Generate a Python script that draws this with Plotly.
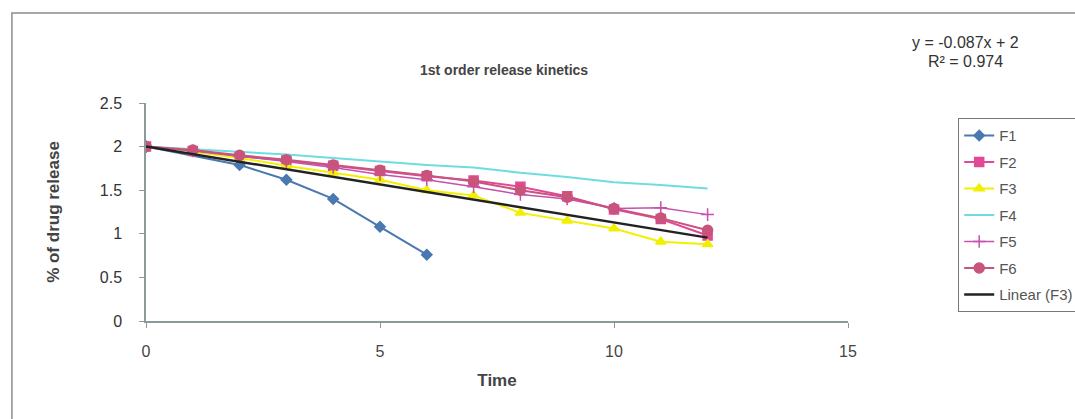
import plotly.graph_objects as go

# Sampling times
time_f1 = [0, 2, 3, 4, 5, 6]
time_all = [0, 1, 2, 3, 4, 5, 6, 7, 8, 9, 10, 11, 12]

# Log of percent drug remaining for each formulation
f1 = [2.0, 1.79, 1.62, 1.40, 1.08, 0.76]
f2 = [2.0, 1.95, 1.89, 1.84, 1.78, 1.72, 1.66, 1.61, 1.54, 1.43, 1.28, 1.17, 0.98]
f3 = [2.0, 1.94, 1.87, 1.78, 1.70, 1.62, 1.50, 1.44, 1.24, 1.15, 1.06, 0.91, 0.88]
f4 = [2.0, 1.97, 1.94, 1.91, 1.87, 1.83, 1.79, 1.76, 1.70, 1.65, 1.59, 1.56, 1.52]
f5 = [2.0, 1.95, 1.89, 1.83, 1.76, 1.68, 1.62, 1.54, 1.45, 1.40, 1.29, 1.30, 1.22]
f6 = [2.0, 1.96, 1.90, 1.85, 1.79, 1.73, 1.67, 1.60, 1.50, 1.42, 1.29, 1.18, 1.04]

# Linear trendline fitted to F3
slope = -0.087
intercept = 2.0
r_squared = 0.974
trend_x = [0, 12]

x_ticks = [0, 5, 10, 15]
y_ticks = [0, 0.5, 1, 1.5, 2, 2.5]

FONT = "Liberation Sans, Arial, sans-serif"

fig = go.Figure()

series = [
    ("F1", time_f1, f1, "#4a78b0", "diamond", 8, 2),
    ("F2", time_all, f2, "#e2489a", "square", 9, 2),
    ("F3", time_all, f3, "#f2f000", "triangle-up", 9, 2),
    ("F4", time_all, f4, "#6fdde0", None, 0, 2),
    ("F5", time_all, f5, "#c64fb0", "cross-thin", 9, 1.5),
    ("F6", time_all, f6, "#c8547c", "circle", 10, 2),
]

for i, (name, xs, ys, color, sym, msize, lw) in enumerate(series):
    if sym is None:
        fig.add_trace(go.Scatter(
            x=xs, y=ys, name=name, mode="lines",
            line=dict(color=color, width=lw), legendgroup=f"g{i}"))
    else:
        fig.add_trace(go.Scatter(
            x=xs, y=ys, name=name, mode="lines+markers",
            line=dict(color=color, width=lw),
            marker=dict(symbol=sym, size=msize, color=color,
                        line=dict(color=color, width=1.5)),
            legendgroup=f"g{i}"))

fig.add_trace(go.Scatter(
    x=trend_x, y=[slope * t + intercept for t in trend_x],
    name="Linear (F3)", mode="lines",
    line=dict(color="#222222", width=2.5), legendgroup="g6"))

fig.update_layout(
    width=1075, height=419,
    margin=dict(l=146, r=227, t=103, b=98, autoexpand=False),
    paper_bgcolor="white", plot_bgcolor="white",
    font=dict(family=FONT, size=16, color="#333333"),
    showlegend=True,
    legend=dict(
        xref="container", yref="container",
        x=958 / 1075, y=1 - 118 / 419, xanchor="left", yanchor="top",
        bordercolor="#777777", borderwidth=1.2,
        font=dict(family=FONT, size=15, color="#555555"),
        tracegroupgap=4, itemwidth=30,
        bgcolor="white",
    ),
    xaxis=dict(
        range=[0, 15], tickvals=x_ticks, showgrid=False, zeroline=False,
        showline=True, linecolor="#8a9a9a", linewidth=1.5,
        ticks="outside", ticklen=5, tickcolor="#8a9a9a",
        tickfont=dict(size=16, color="#444444"), ticklabelstandoff=10,
        title=dict(text="<b>Time</b>", font=dict(size=17, color="#444444"),
                   standoff=15),
    ),
    yaxis=dict(
        range=[0, 2.5], tickvals=y_ticks, showgrid=False, zeroline=False,
        showline=True, linecolor="#8a9a9a", linewidth=1.5,
        ticks="outside", ticklen=5, tickcolor="#8a9a9a",
        tickfont=dict(size=16, color="#333333"), ticklabelstandoff=14,
        title=dict(text="<b>% of drug release</b>",
                   font=dict(size=17, color="#444444"), standoff=36),
    ),
)

fig.add_annotation(
    text="<b>1st order release kinetics</b>", xref="paper", yref="paper",
    x=0.51, y=1.151, xanchor="center", yanchor="middle", showarrow=False,
    font=dict(family=FONT, size=14, color="#444444"))

# Trendline equation and fit quality, one line each
fig.add_annotation(
    text=f"y = {slope:.3f}x + {intercept:g}",
    xref="paper", yref="paper", x=(965 - 146) / 702, y=(321 - 42) / 218,
    xanchor="center", yanchor="middle", showarrow=False,
    font=dict(family=FONT, size=16, color="#333333"))
fig.add_annotation(
    text=f"R² = {r_squared:.3f}",
    xref="paper", yref="paper", x=(965 - 146) / 702, y=(321 - 62) / 218,
    xanchor="center", yanchor="middle", showarrow=False,
    font=dict(family=FONT, size=16, color="#333333"))

# Chart-area frame
fig.add_shape(type="rect", xref="paper", yref="paper",
              x0=-0.191, x1=1.34, y0=-0.5, y1=1.413,
              line=dict(color="#8c8c8c", width=1.5), fillcolor="rgba(0,0,0,0)",
              layer="below")

fig.write_html("out.html")
